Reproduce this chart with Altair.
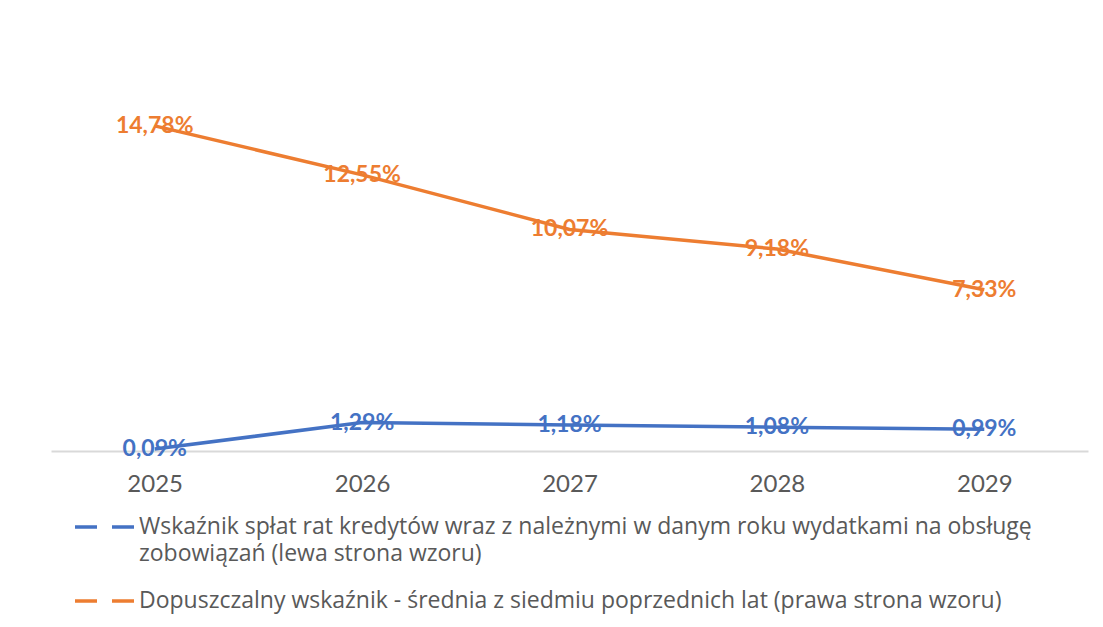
import altair as alt
import pandas as pd

years = ["2025", "2026", "2027", "2028", "2029"]
series_names = [
    "Wskaźnik spłat rat kredytów  wraz z należnymi w danym roku wydatkami na obsługę\nzobowiązań (lewa strona wzoru)",
    "Dopuszczalny wskaźnik - średnia z siedmiu poprzednich lat (prawa strona wzoru)",
]
blue_values = [0.09, 1.29, 1.18, 1.08, 0.99]
orange_values = [14.78, 12.55, 10.07, 9.18, 7.33]
series_colors = ["#4472C4", "#ED7D31"]

rows = []
for name, vals in zip(series_names, [blue_values, orange_values]):
    for y, v in zip(years, vals):
        rows.append({"year": y, "series": name, "value": v,
                     "label": f"{v:.2f}".replace(".", ",") + "%"})
df = pd.DataFrame(rows)

W, H = 1037, 396
GRID = "#D9D9D9"
TXT = "#595959"

x_enc = alt.X("year:O", sort=years, scale=alt.Scale(type="point", padding=0.5),
              axis=alt.Axis(title=None, domain=True, domainColor=GRID, domainWidth=2,
                            ticks=False, labelAngle=0,
                            labelFont="Lato", labelFontSize=24, labelColor=TXT,
                            labelPadding=33, labelBaseline="middle"))
y_enc = alt.Y("value:Q", scale=alt.Scale(domain=[0, 18], nice=False, zero=True), axis=None)
color_enc = alt.Color("series:N", sort=series_names,
                      scale=alt.Scale(domain=series_names, range=series_colors),
                      legend=alt.Legend(
                          title=None, orient="none", legendX=22, legendY=440,
                          direction="vertical", symbolType="stroke",
                          symbolSize=3600, symbolStrokeWidth=3.5,
                          symbolDash=[22, 15], padding=0, rowPadding=3,
                          labelFont="Open Sans", labelFontSize=23, labelColor=TXT,
                          labelOffset=2, labelLimit=2000, labelBaseline="middle",
                          labelExpr="split(datum.label, '\\n')",
                      ))

base = alt.Chart(df)

lines = base.mark_line(strokeWidth=3.5).encode(
    x=x_enc, y=y_enc, color=color_enc)

labels = base.mark_text(font="Lato", fontSize=23, fontWeight="bold").encode(
    x=x_enc, y=y_enc, text="label:N", color=color_enc)

chart = alt.layer(lines, labels).properties(
    width=W, height=H,
    autosize=alt.AutoSizeParams(type="none"),
    padding={"left": 43, "top": 47, "right": 7, "bottom": 167},
    background="white",
).configure(
    style={"guide-label": {"lineHeight": 27}}
).configure_view(stroke=None)

chart.save("out.html", embed_options={"renderer": "svg", "actions": False})
